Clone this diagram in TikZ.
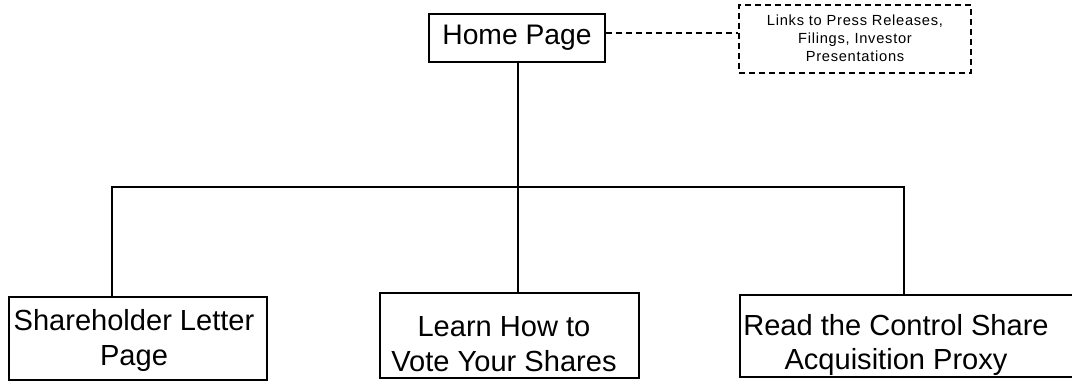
\documentclass[tikz,border=0pt]{standalone}
\usepackage{fontspec}
\setmainfont{Liberation Sans}
\newfontfamily\smallfam[LetterSpace=5]{Liberation Sans}
\begin{document}
\begin{tikzpicture}[x=0.75pt,y=-0.75pt,
  box/.style={draw=black,line width=0.8pt,rectangle,inner sep=0pt},
  bigtxt/.style={font=\fontsize{21.8pt}{26pt}\selectfont,align=center,inner sep=0pt},
  smalltxt/.style={font=\smallfam\fontsize{11pt}{13.5pt}\selectfont,align=center,inner sep=0pt},
  conn/.style={draw=black,line width=0.8pt},
  dashconn/.style={draw=black,line width=0.8pt,dash pattern=on 4.5pt off 3pt}]
\useasboundingbox (0,0) rectangle (1072,381);
% top nodes
\node[box,minimum width=176*0.75pt,minimum height=48*0.75pt] (home) at (517,38) {};
\node[bigtxt,font=\fontsize{21.2pt}{26pt}\selectfont] (hometext) at (517,38) {Home Page};
\node[dashconn,rectangle,inner sep=0pt,minimum width=232*0.75pt,minimum height=68*0.75pt] (links) at (855,39) {};
\node[smalltxt] (linkstext) at (855,38) {Links to Press Releases,\\Filings, Investor\\Presentations};
% bottom nodes
\node[box,minimum width=258*0.75pt,minimum height=83*0.75pt] (letter) at (138,338.5) {};
\node[bigtxt] (lettertext) at (134,340.5) {Shareholder Letter\\Page};
\node[box,minimum width=259*0.75pt,minimum height=85*0.75pt] (vote) at (509.5,335.5) {};
\node[bigtxt] (votetext) at (504,344) {Learn How to\\Vote Your Shares};
\node[box,minimum width=340*0.75pt,minimum height=82*0.75pt] (proxy) at (910,336) {};
\node[bigtxt] (proxytext) at (896,345) {Read the Control Share\\Acquisition Proxy};
% connectors
\coordinate (hub) at (518,187);
\coordinate (lefttop) at (112,187);
\coordinate (righttop) at (904,187);
\draw[conn] (home.south -| hub) -- (hub);
\draw[conn] (hub) -- (vote.north -| hub);
\draw[conn] (hub) -- (lefttop) -- (letter.north -| lefttop);
\draw[conn] (hub) -- (righttop) -- (proxy.north -| righttop);
\draw[dashconn] ([yshift=3.75pt]home.east) -- ([yshift=3.75pt]home.east -| links.west);
\end{tikzpicture}
\end{document}
